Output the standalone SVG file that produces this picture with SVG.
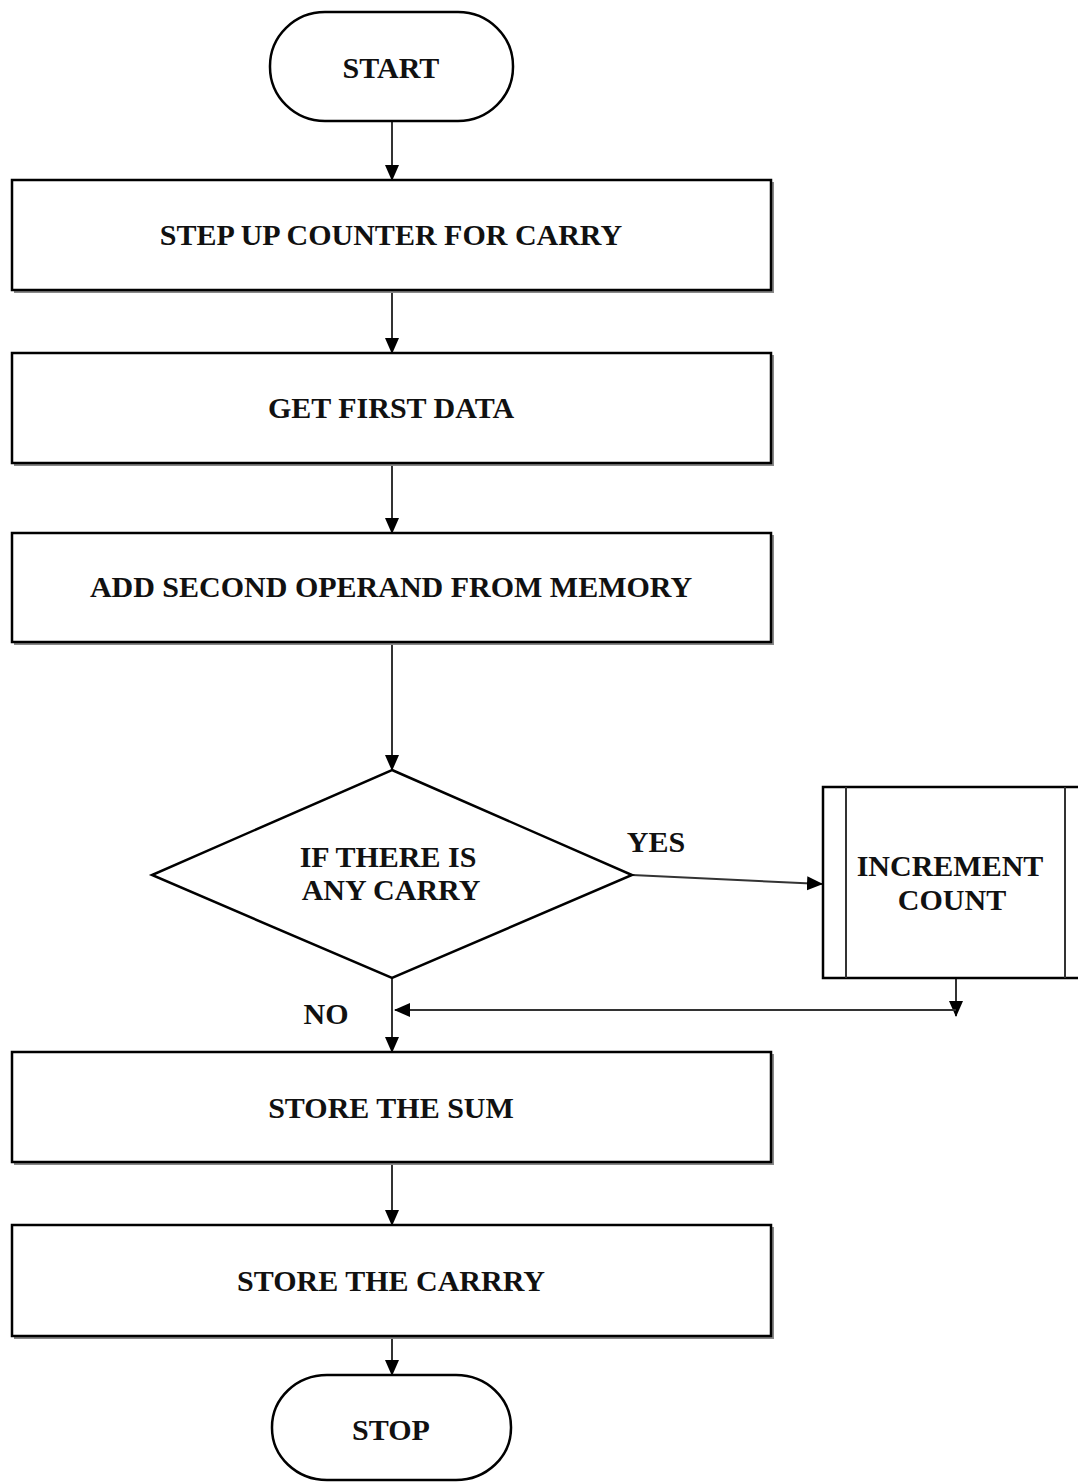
<svg xmlns="http://www.w3.org/2000/svg" width="1078" height="1482" viewBox="0 0 1078 1482">
<style>
.s{fill:#fff;stroke:#000;stroke-width:2.5}
.sh{fill:none;stroke:#888;stroke-width:2}
.t{font-family:"Liberation Serif","Times New Roman",serif;font-weight:bold;font-size:30px;fill:#111;text-anchor:middle}
.c{fill:none;stroke:#333;stroke-width:2}
</style>
<defs>
<marker id="ah" markerWidth="16" markerHeight="16" refX="15" refY="8" orient="auto" markerUnits="userSpaceOnUse">
<path d="M0,1 L16,8 L0,15 Z" fill="#000"/>
</marker>
</defs>
<g id="connectors">
<line class="c" x1="392" y1="121" x2="392" y2="180" marker-end="url(#ah)"/>
<line class="c" x1="392" y1="291" x2="392" y2="353" marker-end="url(#ah)"/>
<line class="c" x1="392" y1="464" x2="392" y2="533" marker-end="url(#ah)"/>
<line class="c" x1="392" y1="643" x2="392" y2="770" marker-end="url(#ah)"/>
<line class="c" x1="632" y1="875" x2="822" y2="884" marker-end="url(#ah)"/>
<line class="c" x1="956" y1="979" x2="956" y2="1016" marker-end="url(#ah)"/>
<line class="c" x1="956" y1="1010" x2="395" y2="1010" marker-end="url(#ah)"/>
<line class="c" x1="392" y1="978" x2="392" y2="1052" marker-end="url(#ah)"/>
<line class="c" x1="392" y1="1163" x2="392" y2="1225" marker-end="url(#ah)"/>
<line class="c" x1="392" y1="1337" x2="392" y2="1375" marker-end="url(#ah)"/>
<text class="t" x="656" y="852">YES</text>
<text class="t" x="326" y="1024">NO</text>
</g>
<g id="start">
<rect class="s" x="270" y="12" width="243" height="109" rx="55" ry="54"/>
<text class="t" x="391" y="78">START</text>
</g>
<g id="step1">
<polyline class="sh" points="14,292 773,292 773,182"/>
<rect class="s" x="12" y="180" width="759" height="110"/>
<text class="t" x="391" y="245">STEP UP COUNTER FOR CARRY</text>
</g>
<g id="step2">
<polyline class="sh" points="14,465 773,465 773,355"/>
<rect class="s" x="12" y="353" width="759" height="110"/>
<text class="t" x="391" y="418">GET FIRST DATA</text>
</g>
<g id="step3">
<polyline class="sh" points="14,644 773,644 773,535"/>
<rect class="s" x="12" y="533" width="759" height="109"/>
<text class="t" x="391" y="597">ADD SECOND OPERAND FROM MEMORY</text>
</g>
<g id="decision">
<polygon class="s" points="392,770 632,875 392,978 152,875"/>
<text class="t" x="388" y="867">IF THERE IS</text>
<text class="t" x="391" y="900">ANY CARRY</text>
</g>
<g id="increment">
<rect class="s" x="823" y="787" width="265" height="191"/>
<line x1="846" y1="787" x2="846" y2="978" stroke="#333" stroke-width="2"/>
<line x1="1065" y1="787" x2="1065" y2="978" stroke="#333" stroke-width="2"/>
<text class="t" x="950" y="876">INCREMENT</text>
<text class="t" x="952" y="910">COUNT</text>
</g>
<g id="store-sum">
<polyline class="sh" points="14,1164 773,1164 773,1054"/>
<rect class="s" x="12" y="1052" width="759" height="110"/>
<text class="t" x="391" y="1118">STORE THE SUM</text>
</g>
<g id="store-carry">
<polyline class="sh" points="14,1338 773,1338 773,1227"/>
<rect class="s" x="12" y="1225" width="759" height="111"/>
<text class="t" x="391" y="1291">STORE THE CARRRY</text>
</g>
<g id="stop">
<rect class="s" x="272" y="1375" width="239" height="105" rx="55" ry="52"/>
<text class="t" x="391" y="1440">STOP</text>
</g>
</svg>
